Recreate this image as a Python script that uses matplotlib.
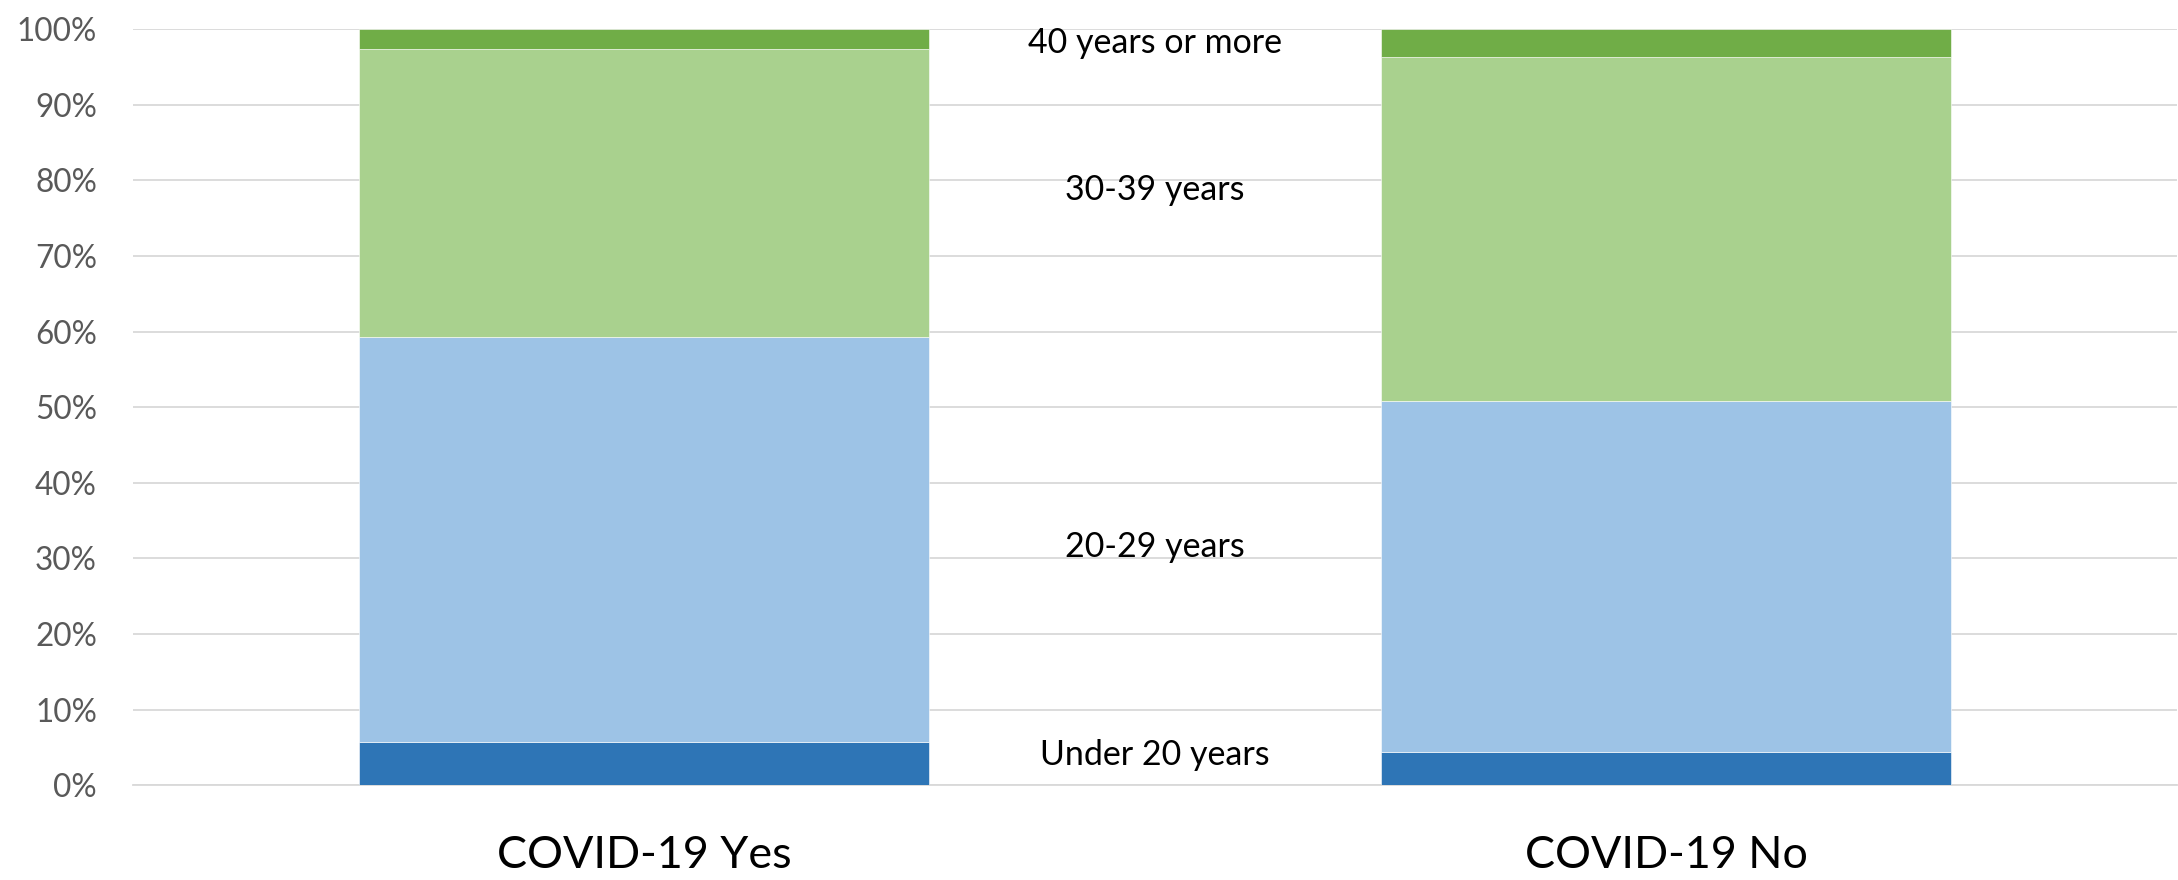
import numpy as np
import matplotlib
matplotlib.use("Agg")
from matplotlib import pyplot as plt
from matplotlib.ticker import PercentFormatter

plt.rcParams['font.family'] = ['Lato', 'DejaVu Sans']

categories = ["COVID-19 Yes", "COVID-19 No"]
age_groups = ["Under 20 years", "20-29 years", "30-39 years", "40 years or more"]
shares = {
    "Under 20 years":   [5.7, 4.4],
    "20-29 years":      [53.6, 46.4],
    "30-39 years":      [38.0, 45.5],
    "40 years or more": [2.7, 3.7],
}
# where the group names sit, as % on the y axis
label_y = [2.7, 30.2, 77.4, 96.8]

COLORS = ["#2E75B6", "#9DC3E6", "#A9D18E", "#70AD47"]
BAR_WIDTH = 0.558

fig = plt.figure(figsize=(21.78, 8.8), dpi=100)
ax = fig.add_axes([0.0611, 0.1076, 0.9384, 0.8594])

x = np.arange(len(categories))
bottom = np.zeros(len(categories))
for grp, col in zip(age_groups, COLORS):
    vals = np.array(shares[grp])
    ax.bar(x, vals, BAR_WIDTH, bottom=bottom, color=col,
           edgecolor="#ffffff", linewidth=0.4, zorder=3)
    bottom += vals

for grp, yv in zip(age_groups, label_y):
    ax.text(0.5, yv, grp, ha="center", va="baseline", fontsize=24.5, color="black", zorder=4)

ax.set_xlim(-0.5, 1.5)
ax.set_ylim(0, 100)
ax.set_yticks(np.arange(0, 101, 10))
ax.yaxis.set_major_formatter(PercentFormatter(decimals=0))
ax.set_xticks(x)
ax.set_xticklabels(categories, fontsize=32.3, color="black")

ax.grid(axis="y", color="#D9D9D9", linewidth=1.3, zorder=0)
for s in ["top", "right", "left"]:
    ax.spines[s].set_visible(False)
ax.spines["bottom"].set_color("#D9D9D9")
ax.spines["bottom"].set_linewidth(1.3)
ax.tick_params(axis="y", length=0, pad=26, labelsize=22.7, labelcolor="#595959")
ax.tick_params(axis="x", length=0, pad=36)

fig.savefig("out.png", dpi=100)
